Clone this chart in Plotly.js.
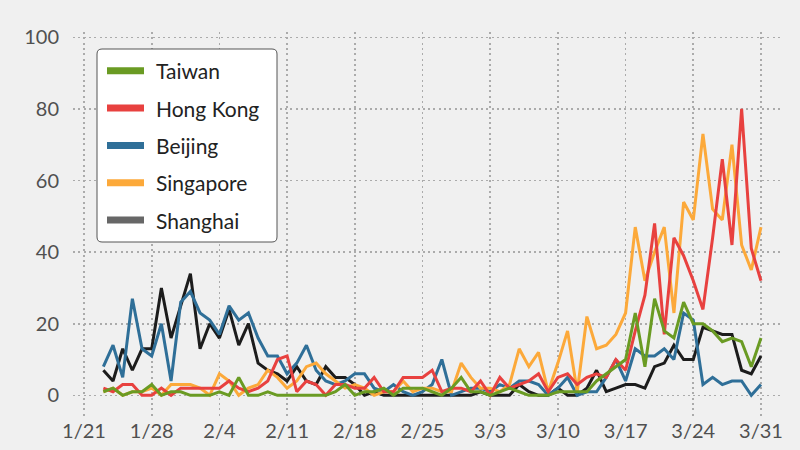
<!DOCTYPE html>
<html>
<head>
<meta charset="utf-8">
<script src="https://cdn.plot.ly/plotly-3.0.1.min.js"></script>
<style>
  html, body { margin: 0; padding: 0; background: #f0f0f0; }
  #chart { width: 800px; height: 450px; }
</style>
</head>
<body>
<div id="chart"></div>
<script>
// Daily values, 2020-01-23 .. 2020-03-31
const startDate = '2020-01-23';
const taiwan = [1,2,0,1,1,3,0,1,1,0, 0,0,1,0,5,0,0,1,0,0, 0,0,0,0,1,3,0,1,1,2, 0,2,2,2,1,0,2,5,1,1, 0,1,2,1,0,0,0,1,1,1, 1,4,6,8,10,23,8,27,18,16, 26,20,20,18,15,16,15,8,16];
const hongKong = [2,1,3,3,0,0,2,0,2,2, 2,2,2,4,2,1,2,4,10,11, 1,4,3,0,3,3,2,2,5,1, 1,5,5,5,7,1,2,2,1,4, 0,5,2,3,4,6,1,5,6,3, 5,6,5,10,7,18,28,48,17,44, 39,32,24,44,66,42,80,41,32];
const beijing = [8,14,5,27,13,11,20,4,26,29, 23,21,17,25,21,23,16,11,11,6, 9,14,7,4,3,4,6,6,2,1, 3,1,0,1,3,10,0,1,2,2, 1,3,2,4,4,3,0,2,5,0, 1,1,5,10,4,13,11,11,13,10, 23,21,3,5,3,4,4,0,3];
const singapore = [1,2,0,1,1,2,0,3,3,3, 2,0,6,4,0,2,3,7,5,2, 4,8,9,6,4,2,3,2,0,1, 1,4,1,2,2,1,1,9,5,2, 2,1,3,13,8,12,1,9,18,1, 22,13,14,17,23,47,32,40,47,23, 54,49,73,52,49,70,42,35,47];
const shanghai = [7,4,13,7,13,13,30,16,25,34, 13,20,16,24,14,20,9,7,6,4, 8,4,3,8,5,5,3,0,1,0, 0,0,0,0,0,0,0,0,0,1, 0,0,0,3,1,0,0,2,0,0, 2,7,1,2,3,3,2,8,9,14, 10,10,19,18,17,17,7,6,11];

const xTickVals = ['2020-01-21','2020-01-28','2020-02-04','2020-02-11','2020-02-18','2020-02-25','2020-03-03','2020-03-10','2020-03-17','2020-03-24','2020-03-31'];
const xTickLabels = ['1/21','1/28','2/4','2/11','2/18','2/25','3/3','3/10','3/17','3/24','3/31'];
const yTickVals = [0,20,40,60,80,100];

const seriesNames = ['Taiwan','Hong Kong','Beijing','Singapore','Shanghai'];
const seriesData = [taiwan, hongKong, beijing, singapore, shanghai];
const lineColors = ['#6a9b23','#e8413f','#2f6f98','#fca93a','#1c1c1c'];
const legendColors = ['#6a9b23','#e8413f','#2f6f98','#fca93a','#676767'];

const dates = taiwan.map((_, i) => {
  const d = new Date(startDate + 'T00:00:00Z');
  d.setUTCDate(d.getUTCDate() + i);
  return d.toISOString().slice(0, 10);
});

// ---- geometry of the figure (pixels) ----
const W = 800, H = 450;
const M = { l: 73, r: 17, t: 32, b: 33 };
const plotW = W - M.l - M.r, plotH = H - M.t - M.b;
const px = v => (v - M.l) / plotW;          // pixel x -> paper x
const py = v => (H - M.b - v) / plotH;      // pixel y -> paper y

// drawing order (bottom -> top)
const drawOrder = [4, 2, 3, 1, 0];
const traces = drawOrder.map(i => ({
  type: 'scatter', mode: 'lines', x: dates, y: seriesData[i],
  name: seriesNames[i], showlegend: false, hoverinfo: 'skip',
  line: { color: lineColors[i], width: 3, shape: 'linear' }
}));

// ---- legend box (drawn as shapes + annotations) ----
const box = { x0: 97, x1: 277, y0: 49, y1: 242, r: 5 };
const bx0 = px(box.x0), bx1 = px(box.x1), byT = py(box.y0), byB = py(box.y1);
const rx = box.r / plotW, ry = box.r / plotH;
const boxPath = `M${bx0+rx},${byT} L${bx1-rx},${byT} Q${bx1},${byT} ${bx1},${byT-ry} ` +
  `L${bx1},${byB+ry} Q${bx1},${byB} ${bx1-rx},${byB} L${bx0+rx},${byB} Q${bx0},${byB} ${bx0},${byB+ry} ` +
  `L${bx0},${byT-ry} Q${bx0},${byT} ${bx0+rx},${byT} Z`;

const shapes = [{
  type: 'path', xref: 'paper', yref: 'paper', path: boxPath, layer: 'above',
  fillcolor: '#ffffff', line: { color: '#555555', width: 1 }
}];
const annotations = [];
const itemY0 = 70.8, itemStep = 37.3;
seriesNames.forEach((n, i) => {
  const yy = py(itemY0 + i * itemStep);
  shapes.push({
    type: 'line', xref: 'paper', yref: 'paper', layer: 'above',
    x0: px(107), x1: px(144), y0: yy, y1: yy,
    line: { color: legendColors[i], width: 7 }
  });
  annotations.push({
    xref: 'paper', yref: 'paper', x: px(154), y: yy,
    xanchor: 'left', yanchor: 'middle', showarrow: false, text: n,
    font: { family: 'Lato, "Open Sans", sans-serif', size: 21, color: '#222222' }
  });
});

const gridStyle = { gridcolor: '#ababab', gridwidth: 1.6, griddash: '2px,3.3px' };

const layout = {
  width: W, height: H,
  paper_bgcolor: '#f0f0f0', plot_bgcolor: '#f0f0f0',
  margin: { l: M.l, r: M.r, t: M.t, b: M.b, pad: 0 },
  font: { family: 'Lato, "Open Sans", sans-serif', color: '#505050', size: 20 },
  showlegend: false,
  xaxis: Object.assign({
    type: 'date',
    range: ['2020-01-19 20:40', '2020-04-02 06:40'],
    tickmode: 'array', tickvals: xTickVals, ticktext: xTickLabels,
    showgrid: true, zeroline: false, showline: false, ticks: '',
    tickfont: { size: 20, color: '#505050' },
    fixedrange: true
  }, gridStyle),
  yaxis: Object.assign({
    range: [-6.06, 101.5],
    tickmode: 'array', tickvals: yTickVals,
    showgrid: true, zeroline: false, showline: false, ticks: '',
    tickfont: { size: 20, color: '#505050' },
    ticklabelstandoff: 13,
    fixedrange: true
  }, gridStyle),
  shapes: shapes,
  annotations: annotations
};

Plotly.newPlot('chart', traces, layout, { staticPlot: true, displayModeBar: false });
</script>
</body>
</html>
